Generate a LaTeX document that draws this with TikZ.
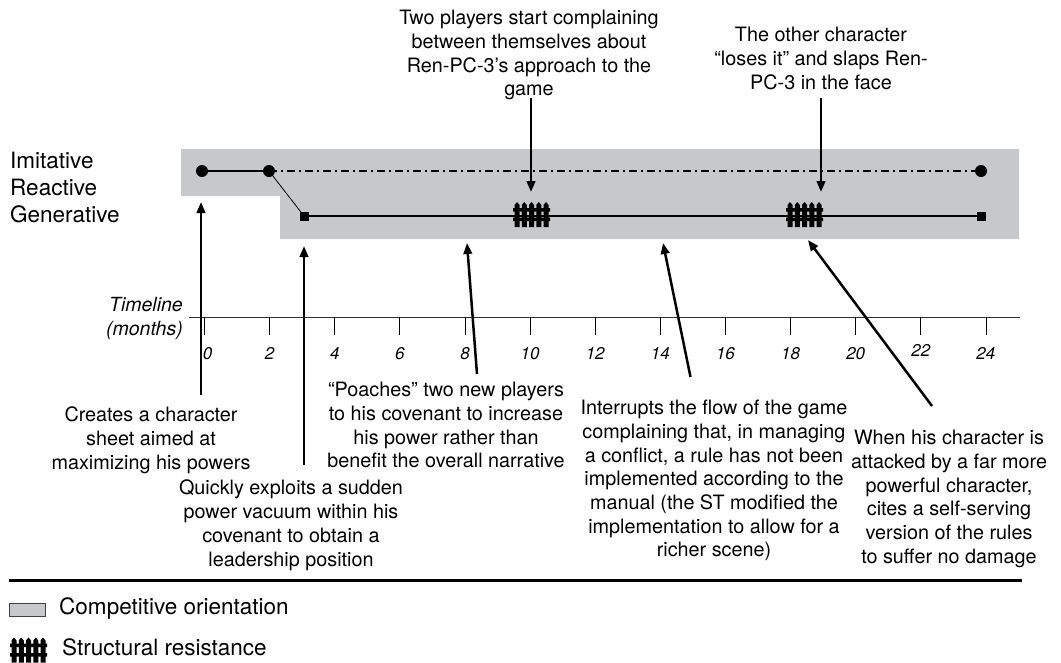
\documentclass[tikz,border=0pt]{standalone}
\usepackage{fontspec}
\setmainfont{TeX Gyre Heros}
\usetikzlibrary{arrows.meta}
\definecolor{bandgray}{RGB}{199,200,202}
\tikzset{
	fence/.pic={
		\foreach \p in {-14.5,-7.25,0,7.25,14.5}
			\fill (\p-2.5,12.5) -- (\p-2.5,-9.5) -- (\p,-12.5) -- (\p+2.5,-9.5) -- (\p+2.5,12.5) -- cycle;
		\fill (-18.5,-6.5) rectangle (18.5,-3) (-18.5,3) rectangle (18.5,6.5);
	}
}
\begin{document}
\begin{tikzpicture}[x=1pt, y=-1pt, line join=round, >={Triangle[length=11pt,width=8.5pt]},
	note/.style={align=center, inner sep=0, anchor=north, font=\fontsize{19.8}{23.7}\selectfont},
	big/.style={inner sep=0, font=\fontsize{22.5}{27}\selectfont},
	pointer/.style={->, line width=2.5pt}]
	\useasboundingbox (0,0) rectangle (1061,662);
	\path
	(202,171) coordinate (d0)
	(269,171) coordinate (d2)
	(981,171) coordinate (d24)
	(304,216) coordinate (s3)
	(981,216) coordinate (s24)
	(531,98) coordinate (a1s) (531,192) coordinate (a1e)
	(821,98) coordinate (a2s) (821,192) coordinate (a2e)
	(201,395) coordinate (b1s) (201,202) coordinate (b1e)
	(304,465) coordinate (b2s) (304,246) coordinate (b2e)
	(477,374) coordinate (b3s) (467,243) coordinate (b3e)
	(690.5,377) coordinate (b4s) (663,243) coordinate (b4e)
	(932,406) coordinate (b5s) (808,240) coordinate (b5e)
	;
	\fill[bandgray] (181,149) -- (1019,149) -- (1019,239) -- (280,239) -- (280,196) -- (181,196) -- cycle;
	\node[big, align=left, anchor=north west] (levels) at (10,152) {Imitative\\Reactive\\Generative};
	\draw[line width=2pt] (d0) -- (d2);
	\draw[line width=2pt, dash pattern=on 8pt off 4pt on 2pt off 4pt] (d2) -- (d24);
	\draw[line width=0.8pt] (d2) -- (s3);
	\draw[line width=1.2pt] (s3) -- (s24);
	\foreach \c in {d0,d2,d24} \fill (\c) circle (6);
	\foreach \c in {s3,s24} \fill ([shift={(-4.5,-4.5)}]\c) rectangle +(9,9);
	\pic at (531.5,214.5) {fence};
	\pic at (804.5,214.5) {fence};
	% timeline
	\draw[line width=1pt, black!80] (189,317) -- (1020,317);
	\foreach \m in {0,2,...,24} \draw[line width=0.8pt] (204.5+32.56*\m,317) -- ++(0,18);
	\foreach \m/\dx/\dy in {0/3/0,2/0/0,4/0/0,6/0/0,8/0/0,10/0/0,12/0/0,14/0/0,16/0/0,18/0/0,20/0/0,22/0/-3,24/0/0}
		\node[inner sep=0, anchor=north, font=\itshape\fontsize{17}{20}\selectfont] (m\m) at (204.5+32.56*\m+\dx,347+\dy) {\m};
	\node[inner sep=0, align=right, anchor=north east, font=\itshape\fontsize{19.5}{24}\selectfont] (tl) at (183,297) {Timeline\\(months)};
	% notes above
	\node[note] (n1) at (529,10) {Two players start complaining\\between themselves about\\Ren-PC-3’s approach to the\\game};
	\node[note] (n2) at (821,27) {The other character\\“loses it” and slaps Ren-\\PC-3 in the face};
	\draw[pointer] (a1s) -- (a1e);
	\draw[pointer] (a2s) -- (a2e);
	% notes below
	\node[note] (c1) at (151,407) {Creates a character\\sheet aimed at\\maximizing his powers};
	\node[note] (c2) at (291,480) {Quickly exploits a sudden\\power vacuum within his\\covenant to obtain a\\leadership position};
	\node[note] (c3) at (446,382) {“Poaches” two new players\\to his covenant to increase\\his power rather than\\benefit the overall narrative};
	\node[note] (c4) at (714,400) {Interrupts the flow of the game\\complaining that, in managing\\a conflict, a rule has not been\\implemented according to the\\manual (the ST modified the\\implementation to allow for a\\richer scene)};
	\node[note] (c5) at (949,430) {When his character is\\attacked by a far more\\powerful character,\\cites a self-serving\\version of the rules\\to suffer no damage};
	\foreach \a in {b1,b2,b3,b4,b5} \draw[pointer] (\a s) -- (\a e);
	% key
	\draw[line width=3pt] (8.5,580) -- (1022,580);
	\node[draw=black!75, fill=bandgray, line width=1pt, inner sep=0, minimum width=36pt, minimum height=13pt] (k1) at (27.5,610) {};
	\node[big, anchor=west] (k1t) at (59,609) {Competitive orientation};
	\pic at (28.5,650) {fence};
	\node[big, anchor=west] (k2t) at (62,647) {Structural resistance};
\end{tikzpicture}
\end{document}
